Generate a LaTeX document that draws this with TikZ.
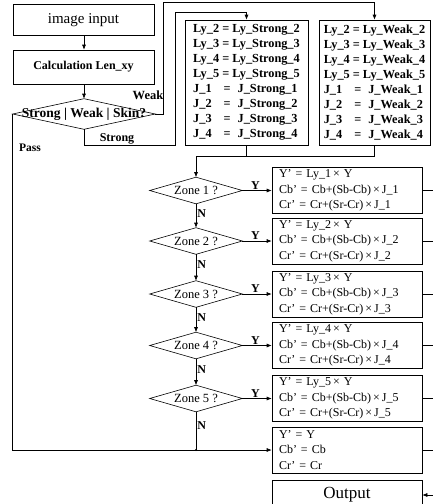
\documentclass[tikz,border=0pt]{standalone}
\usepackage{fontspec}
\setmainfont{Liberation Serif}
\usetikzlibrary{arrows.meta,calc}
\begin{document}
\begin{tikzpicture}[x=1pt,y=-1pt,
  line width=0.6pt,
  arr/.style={-{Latex[length=5pt,width=4pt]}},
  box/.style={draw, inner sep=0pt, align=center},
  topbox/.style={box, minimum width=141pt},
  listbox/.style={draw, inner sep=0pt, align=left, minimum height=125pt, font=\bfseries\fontsize{12.3}{15}\selectfont},
  resbox/.style={draw, inner xsep=7pt, inner ysep=0pt, text width=136pt, align=left, minimum height=46pt, font=\fontsize{12}{15.5}\selectfont},
  zone/.style={inner sep=0pt, minimum width=92pt, minimum height=26pt, font=\fontsize{12.5}{14}\selectfont},
  lab/.style={font=\bfseries\fontsize{12}{14}\selectfont, inner sep=1pt}
]
\useasboundingbox (0,0) rectangle (433,504);

% top part
\node[topbox, minimum height=31pt, font=\fontsize{15}{17}\selectfont] (inp) at (83.5,20) {image input};
\node[topbox, minimum height=34pt, font=\bfseries\fontsize{12}{14}\selectfont] (calc) at (83.5,67) {Calculation Len\_xy};
\node[inner sep=0pt, minimum width=142pt, minimum height=30pt, font=\bfseries\fontsize{13.5}{15}\selectfont] (dia) at (84,114) {Strong | Weak | Skin?};
\draw (dia.west) -- (dia.north) -- (dia.east) -- (dia.south) -- cycle;

\node[listbox, minimum width=123pt] (strong) at (246.5,82.5) {%
Ly\_2 = Ly\_Strong\_2\\
Ly\_3 = Ly\_Strong\_3\\
Ly\_4 = Ly\_Strong\_4\\
Ly\_5 = Ly\_Strong\_5\\
J\_1\hspace{12pt}=\hspace{7pt}J\_Strong\_1\hspace{6pt}\\
J\_2\hspace{12pt}=\hspace{7pt}J\_Strong\_2\\
J\_3\hspace{12pt}=\hspace{7pt}J\_Strong\_3\\
J\_4\hspace{12pt}=\hspace{7pt}J\_Strong\_4};

\node[listbox, minimum width=111pt] (weak) at (374.5,82.5) {%
Ly\_2 = Ly\_Weak\_2\\
Ly\_3 = Ly\_Weak\_3\\
Ly\_4 = Ly\_Weak\_4\\
Ly\_5 = Ly\_Weak\_5\\
J\_1\hspace{12pt}=\hspace{7pt}J\_Weak\_1\\
J\_2\hspace{12pt}=\hspace{7pt}J\_Weak\_2\\
J\_3\hspace{12pt}=\hspace{7pt}J\_Weak\_3\\
J\_4\hspace{12pt}=\hspace{7pt}J\_Weak\_4};

% zones and results
\foreach \i/\y in {1/190.5,2/241,3/294,4/345.5,5/398.5} {
  \node[zone] (z\i) at (196,\y) {Zone \i\ ?};
  \draw (z\i.west) -- (z\i.north) -- (z\i.east) -- (z\i.south) -- cycle;
  \node[resbox] (r\i) at (347,\y) {Y' = Ly\_\i\,× Y\\ Cb' = Cb+(Sb-Cb)\,×\,J\_\i\\ Cr' = Cr+(Sr-Cr)\,×\,J\_\i};
  \draw[arr] (z\i.east) -- node[lab, above, pos=0.45] (y\i) {Y} (r\i.west);
}
\node[resbox] (r6) at (347,450) {Y' = Y\\ Cb' = Cb\\ Cr' = Cr};
\node[box, minimum width=150pt, minimum height=30pt, font=\fontsize{17}{19}\selectfont] (out) at (347,495) {Output};

% connectors top
\draw[arr] (inp.south -| dia.north) -- (calc.north -| dia.north);
\draw[arr] (calc.south -| dia.north) -- (dia.north);
\coordinate (wk1) at ($(dia.east)+(8,0)$);
\coordinate (wk2) at ($(weak.north)+(0,-17)$);
\draw[arr] (dia.east) -- (wk1) |- (wk2) -- (weak.north);
\coordinate (st1) at (175,145);
\coordinate (st2) at ($(strong.north)+(0,-7)$);
\draw[arr] (dia.south) |- (st1) |- (st2) -- (strong.north);
\coordinate (jn) at (196,156);
\draw[arr] (weak.south) |- (jn) -- (z1.north);
\draw (strong.south) -- (strong.south |- jn);

% N connectors
\foreach \i/\j in {1/2,2/3,3/4,4/5} {
  \draw[arr] (z\i.south) -- node[lab, right, pos=0.4] (n\i) {N} (z\j.north);
}
\coordinate (pj) at (z5.south |- r6.west);
\draw (z5.south) -- node[lab, right, pos=0.35] (n5) {N} (pj);
\draw[arr] (dia.west) |- (r6.west);
\fill (pj) circle (1.2pt);

% labels
\node[lab, font=\bfseries\fontsize{12.5}{14}\selectfont] (lweak) at (148,95) {Weak};
\node[lab] (lstrong) at (117,139) {Strong};
\node[lab, font=\bfseries\fontsize{11.5}{13}\selectfont] (lpass) at (30,148) {Pass};

% right bus
\foreach \r in {r1,r2,r3,r4,r5,r6} {
  \draw (\r.east) -- ++(11,0);
}
\coordinate (bt) at ($(r1.east)+(10.5,0)$);
\coordinate (bb) at ($(out.east)+(10.5,0)$);
\draw (bt) -- (bb);
\draw[arr] (bb) -- (out.east);
\end{tikzpicture}
\end{document}
